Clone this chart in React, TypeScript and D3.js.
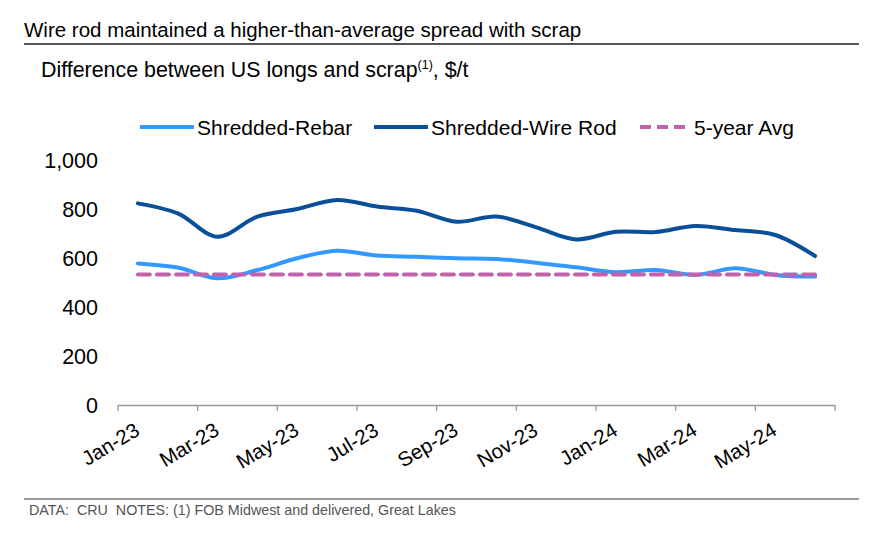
import * as d3 from 'd3';
import * as React from 'react';

const months = [
  'Jan-23', 'Feb-23', 'Mar-23', 'Apr-23', 'May-23', 'Jun-23', 'Jul-23', 'Aug-23', 'Sep-23',
  'Oct-23', 'Nov-23', 'Dec-23', 'Jan-24', 'Feb-24', 'Mar-24', 'Apr-24', 'May-24', 'Jun-24',
];
const rebar = [578, 561, 517, 551, 599, 630, 610, 605, 599, 596, 581, 562, 542, 551, 531, 558, 531, 524];
const wireRod = [823, 782, 687, 769, 800, 837, 810, 793, 748, 769, 725, 676, 707, 706, 731, 714, 694, 608];
const fiveYearAvg = [533, 533, 533, 533, 533, 533, 533, 533, 533, 533, 533, 533, 533, 533, 533, 533, 533, 533];
const yTicks = [0, 200, 400, 600, 800, 1000];

const seriesList = [
  { name: 'Shredded-Rebar', values: rebar, color: '#3399ff', dash: undefined as string | undefined },
  { name: 'Shredded-Wire Rod', values: wireRod, color: '#0a5099', dash: undefined as string | undefined },
  { name: '5-year Avg', values: fiveYearAvg, color: '#c262ad', dash: '12 7' },
];

const W = 896;
const H = 543;
const FONT = '"Liberation Sans", Arial, sans-serif';

export default function App() {
  const x = React.useMemo(
    () => d3.scaleBand<string>().domain(months).range([118, 835]).paddingInner(0).paddingOuter(0),
    [],
  );
  const y = React.useMemo(() => d3.scaleLinear().domain([0, 1000]).range([405, 160]), []);
  const cx = (m: string) => (x(m) ?? 0) + x.bandwidth() / 2;

  const line = d3
    .line<number>()
    .x((_, i) => cx(months[i]))
    .y((d) => y(d))
    .curve(d3.curveCatmullRom.alpha(0.5));

  const tickEdges = months.map((m) => x(m) ?? 0).filter((_, i) => i % 2 === 0);
  tickEdges.push(835);

  // legend swatch start, swatch length, label start
  const legendItems = [
    { x0: 140, len: 54, tx: 197 },
    { x0: 374, len: 54, tx: 431 },
    { x0: 640, len: 48, tx: 694 },
  ];

  return (
    <svg
      width={W}
      height={H}
      style={{ position: 'absolute', left: 0, top: 0, display: 'block', background: '#fff' }}
      fontFamily={FONT}
    >
      <text x={24} y={37} fontSize={20.5} fill="#000">
        Wire rod maintained a higher-than-average spread with scrap
      </text>
      <line x1={24} x2={859} y1={44} y2={44} stroke="#555" strokeWidth={2} />
      <text x={41} y={77} fontSize={21.4} fill="#000">
        Difference between US longs and scrap
        <tspan fontSize={12.5} dy={-8}>(1)</tspan>
        <tspan dy={8}>, $/t</tspan>
      </text>

      {/* legend */}
      {seriesList.map((s, i) => (
        <g key={s.name}>
          <line
            x1={legendItems[i].x0}
            x2={legendItems[i].x0 + legendItems[i].len}
            y1={127}
            y2={127}
            stroke={s.color}
            strokeWidth={4}
            strokeDasharray={s.dash ? '11 6' : undefined}
          />
          <text x={legendItems[i].tx} y={134.5} fontSize={21} fill="#000">
            {s.name}
          </text>
        </g>
      ))}

      {/* y axis labels */}
      {yTicks.map((t) => (
        <text key={t} x={98} y={y(t)} dy="0.36em" textAnchor="end" fontSize={21.5} fill="#000">
          {d3.format(',')(t)}
        </text>
      ))}

      {/* x axis */}
      <line x1={118} x2={835} y1={405.5} y2={405.5} stroke="#999" strokeWidth={1.3} />
      {tickEdges.map((t, i) => (
        <line key={i} x1={t} x2={t} y1={405} y2={411} stroke="#999" strokeWidth={1.3} />
      ))}
      {months.map((m, i) =>
        i % 2 === 0 ? (
          <text
            key={m}
            transform={`translate(${cx(m) + 3},${434}) rotate(-31)`}
            textAnchor="end"
            fontSize={20.5}
            fill="#000"
          >
            {m}
          </text>
        ) : null,
      )}

      {/* series */}
      {seriesList.map((s) => (
        <path
          key={s.name}
          d={line(s.values) ?? ''}
          fill="none"
          stroke={s.color}
          strokeWidth={4}
          strokeLinecap="round"
          strokeDasharray={s.dash}
        />
      ))}

      <line x1={24} x2={859} y1={499} y2={499} stroke="#777" strokeWidth={1.5} />
      <text x={29} y={515} fontSize={14.3} fill="#555" style={{ whiteSpace: 'pre' }}>
        {'DATA:  CRU  NOTES: (1) FOB Midwest and delivered, Great Lakes'}
      </text>
    </svg>
  );
}
